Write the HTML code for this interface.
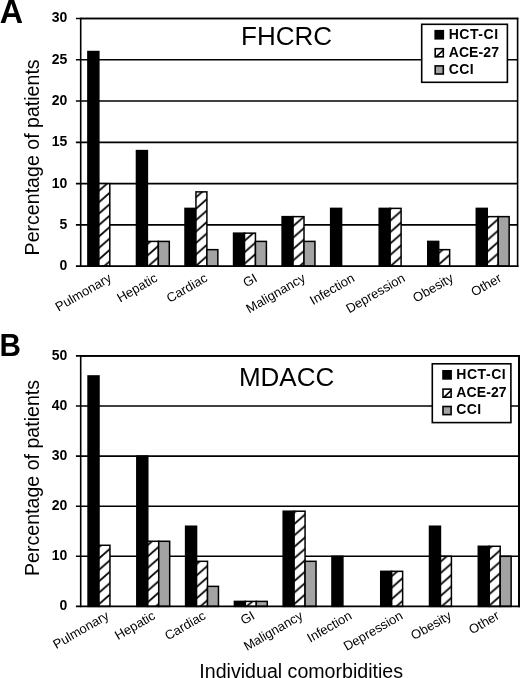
<!DOCTYPE html>
<html><head><meta charset="utf-8"><style>
html,body{margin:0;padding:0;background:#fff;}
body{width:520px;height:678px;overflow:hidden;}
svg{display:block;font-family:"Liberation Sans", sans-serif;filter:grayscale(1);}
</style></head><body>
<svg width="520" height="678" viewBox="0 0 520 678">
<rect width="520" height="678" fill="#fff"/>
<defs>
<pattern id="hatchA0" patternUnits="userSpaceOnUse" x="0" y="3.53" width="12.989" height="11.430"><rect width="12.989" height="11.430" fill="#fff"/><path d="M-25.977,22.860 L12.989,-11.430" stroke="#000" stroke-width="1.8"/><path d="M-12.989,22.860 L25.977,-11.430" stroke="#000" stroke-width="1.8"/><path d="M0.000,22.860 L38.966,-11.430" stroke="#000" stroke-width="1.8"/></pattern>
<pattern id="hatchA1" patternUnits="userSpaceOnUse" x="0" y="8.08" width="12.989" height="11.430"><rect width="12.989" height="11.430" fill="#fff"/><path d="M-25.977,22.860 L12.989,-11.430" stroke="#000" stroke-width="1.8"/><path d="M-12.989,22.860 L25.977,-11.430" stroke="#000" stroke-width="1.8"/><path d="M0.000,22.860 L38.966,-11.430" stroke="#000" stroke-width="1.8"/></pattern>
<pattern id="hatchA2" patternUnits="userSpaceOnUse" x="0" y="3.98" width="12.989" height="11.430"><rect width="12.989" height="11.430" fill="#fff"/><path d="M-25.977,22.860 L12.989,-11.430" stroke="#000" stroke-width="1.8"/><path d="M-12.989,22.860 L25.977,-11.430" stroke="#000" stroke-width="1.8"/><path d="M0.000,22.860 L38.966,-11.430" stroke="#000" stroke-width="1.8"/></pattern>
<pattern id="hatchA3" patternUnits="userSpaceOnUse" x="0" y="10.22" width="12.989" height="11.430"><rect width="12.989" height="11.430" fill="#fff"/><path d="M-25.977,22.860 L12.989,-11.430" stroke="#000" stroke-width="1.8"/><path d="M-12.989,22.860 L25.977,-11.430" stroke="#000" stroke-width="1.8"/><path d="M0.000,22.860 L38.966,-11.430" stroke="#000" stroke-width="1.8"/></pattern>
<pattern id="hatchA4" patternUnits="userSpaceOnUse" x="0" y="4.09" width="12.989" height="11.430"><rect width="12.989" height="11.430" fill="#fff"/><path d="M-25.977,22.860 L12.989,-11.430" stroke="#000" stroke-width="1.8"/><path d="M-12.989,22.860 L25.977,-11.430" stroke="#000" stroke-width="1.8"/><path d="M0.000,22.860 L38.966,-11.430" stroke="#000" stroke-width="1.8"/></pattern>
<pattern id="hatchA5" patternUnits="userSpaceOnUse" x="0" y="5.09" width="12.989" height="11.430"><rect width="12.989" height="11.430" fill="#fff"/><path d="M-25.977,22.860 L12.989,-11.430" stroke="#000" stroke-width="1.8"/><path d="M-12.989,22.860 L25.977,-11.430" stroke="#000" stroke-width="1.8"/><path d="M0.000,22.860 L38.966,-11.430" stroke="#000" stroke-width="1.8"/></pattern>
<pattern id="hatchA6" patternUnits="userSpaceOnUse" x="0" y="4.02" width="12.989" height="11.430"><rect width="12.989" height="11.430" fill="#fff"/><path d="M-25.977,22.860 L12.989,-11.430" stroke="#000" stroke-width="1.8"/><path d="M-12.989,22.860 L25.977,-11.430" stroke="#000" stroke-width="1.8"/><path d="M0.000,22.860 L38.966,-11.430" stroke="#000" stroke-width="1.8"/></pattern>
<pattern id="hatchA7" patternUnits="userSpaceOnUse" x="0" y="10.53" width="12.989" height="11.430"><rect width="12.989" height="11.430" fill="#fff"/><path d="M-25.977,22.860 L12.989,-11.430" stroke="#000" stroke-width="1.8"/><path d="M-12.989,22.860 L25.977,-11.430" stroke="#000" stroke-width="1.8"/><path d="M0.000,22.860 L38.966,-11.430" stroke="#000" stroke-width="1.8"/></pattern>
<pattern id="hatchA8" patternUnits="userSpaceOnUse" x="0" y="6.01" width="12.989" height="11.430"><rect width="12.989" height="11.430" fill="#fff"/><path d="M-25.977,22.860 L12.989,-11.430" stroke="#000" stroke-width="1.8"/><path d="M-12.989,22.860 L25.977,-11.430" stroke="#000" stroke-width="1.8"/><path d="M0.000,22.860 L38.966,-11.430" stroke="#000" stroke-width="1.8"/></pattern>
<pattern id="hatchB0" patternUnits="userSpaceOnUse" x="0" y="5.46" width="12.989" height="11.430"><rect width="12.989" height="11.430" fill="#fff"/><path d="M-25.977,22.860 L12.989,-11.430" stroke="#000" stroke-width="1.8"/><path d="M-12.989,22.860 L25.977,-11.430" stroke="#000" stroke-width="1.8"/><path d="M0.000,22.860 L38.966,-11.430" stroke="#000" stroke-width="1.8"/></pattern>
<pattern id="hatchB1" patternUnits="userSpaceOnUse" x="0" y="0.69" width="12.989" height="11.430"><rect width="12.989" height="11.430" fill="#fff"/><path d="M-25.977,22.860 L12.989,-11.430" stroke="#000" stroke-width="1.8"/><path d="M-12.989,22.860 L25.977,-11.430" stroke="#000" stroke-width="1.8"/><path d="M0.000,22.860 L38.966,-11.430" stroke="#000" stroke-width="1.8"/></pattern>
<pattern id="hatchB2" patternUnits="userSpaceOnUse" x="0" y="5.52" width="12.989" height="11.430"><rect width="12.989" height="11.430" fill="#fff"/><path d="M-25.977,22.860 L12.989,-11.430" stroke="#000" stroke-width="1.8"/><path d="M-12.989,22.860 L25.977,-11.430" stroke="#000" stroke-width="1.8"/><path d="M0.000,22.860 L38.966,-11.430" stroke="#000" stroke-width="1.8"/></pattern>
<pattern id="hatchB3" patternUnits="userSpaceOnUse" x="0" y="0.57" width="12.989" height="11.430"><rect width="12.989" height="11.430" fill="#fff"/><path d="M-25.977,22.860 L12.989,-11.430" stroke="#000" stroke-width="1.8"/><path d="M-12.989,22.860 L25.977,-11.430" stroke="#000" stroke-width="1.8"/><path d="M0.000,22.860 L38.966,-11.430" stroke="#000" stroke-width="1.8"/></pattern>
<pattern id="hatchB4" patternUnits="userSpaceOnUse" x="0" y="5.70" width="12.989" height="11.430"><rect width="12.989" height="11.430" fill="#fff"/><path d="M-25.977,22.860 L12.989,-11.430" stroke="#000" stroke-width="1.8"/><path d="M-12.989,22.860 L25.977,-11.430" stroke="#000" stroke-width="1.8"/><path d="M0.000,22.860 L38.966,-11.430" stroke="#000" stroke-width="1.8"/></pattern>
<pattern id="hatchB5" patternUnits="userSpaceOnUse" x="0" y="6.23" width="12.989" height="11.430"><rect width="12.989" height="11.430" fill="#fff"/><path d="M-25.977,22.860 L12.989,-11.430" stroke="#000" stroke-width="1.8"/><path d="M-12.989,22.860 L25.977,-11.430" stroke="#000" stroke-width="1.8"/><path d="M0.000,22.860 L38.966,-11.430" stroke="#000" stroke-width="1.8"/></pattern>
<pattern id="hatchB6" patternUnits="userSpaceOnUse" x="0" y="6.54" width="12.989" height="11.430"><rect width="12.989" height="11.430" fill="#fff"/><path d="M-25.977,22.860 L12.989,-11.430" stroke="#000" stroke-width="1.8"/><path d="M-12.989,22.860 L25.977,-11.430" stroke="#000" stroke-width="1.8"/><path d="M0.000,22.860 L38.966,-11.430" stroke="#000" stroke-width="1.8"/></pattern>
<pattern id="hatchB7" patternUnits="userSpaceOnUse" x="0" y="0.67" width="12.989" height="11.430"><rect width="12.989" height="11.430" fill="#fff"/><path d="M-25.977,22.860 L12.989,-11.430" stroke="#000" stroke-width="1.8"/><path d="M-12.989,22.860 L25.977,-11.430" stroke="#000" stroke-width="1.8"/><path d="M0.000,22.860 L38.966,-11.430" stroke="#000" stroke-width="1.8"/></pattern>
<pattern id="hatchB8" patternUnits="userSpaceOnUse" x="0" y="7.48" width="12.989" height="11.430"><rect width="12.989" height="11.430" fill="#fff"/><path d="M-25.977,22.860 L12.989,-11.430" stroke="#000" stroke-width="1.8"/><path d="M-12.989,22.860 L25.977,-11.430" stroke="#000" stroke-width="1.8"/><path d="M0.000,22.860 L38.966,-11.430" stroke="#000" stroke-width="1.8"/></pattern>
</defs>
<text x="-0.3" y="22.7" font-size="32.3" font-weight="bold">A</text>
<text transform="translate(67.2 270.12) scale(1 1.06)" font-size="14" font-weight="bold" text-anchor="end">0</text>
<line x1="75.90" y1="224.89" x2="517.60" y2="224.89" stroke="#000" stroke-width="1.6"/>
<text transform="translate(67.2 228.84) scale(1 1.06)" font-size="14" font-weight="bold" text-anchor="end">5</text>
<line x1="75.90" y1="183.61" x2="517.60" y2="183.61" stroke="#000" stroke-width="1.6"/>
<text transform="translate(67.2 187.56) scale(1 1.06)" font-size="14" font-weight="bold" text-anchor="end">10</text>
<line x1="75.90" y1="142.33" x2="517.60" y2="142.33" stroke="#000" stroke-width="1.6"/>
<text transform="translate(67.2 146.28) scale(1 1.06)" font-size="14" font-weight="bold" text-anchor="end">15</text>
<line x1="75.90" y1="101.06" x2="517.60" y2="101.06" stroke="#000" stroke-width="1.6"/>
<text transform="translate(67.2 105.01) scale(1 1.06)" font-size="14" font-weight="bold" text-anchor="end">20</text>
<line x1="75.90" y1="59.78" x2="517.60" y2="59.78" stroke="#000" stroke-width="1.6"/>
<text transform="translate(67.2 63.73) scale(1 1.06)" font-size="14" font-weight="bold" text-anchor="end">25</text>
<line x1="75.90" y1="18.50" x2="517.60" y2="18.50" stroke="#000" stroke-width="1.6"/>
<text transform="translate(67.2 22.45) scale(1 1.06)" font-size="14" font-weight="bold" text-anchor="end">30</text>
<text x="286.55" y="45.4" font-size="26" text-anchor="middle">FHCRC</text>
<rect x="87.90" y="51.52" width="10.95" height="214.65" fill="#000" stroke="#000" stroke-width="1.5"/>
<rect x="98.85" y="183.61" width="10.95" height="82.56" fill="url(#hatchA0)" stroke="#000" stroke-width="1.5"/>
<rect x="136.45" y="150.59" width="10.95" height="115.58" fill="#000" stroke="#000" stroke-width="1.5"/>
<rect x="147.40" y="241.40" width="10.95" height="24.77" fill="url(#hatchA1)" stroke="#000" stroke-width="1.5"/>
<rect x="158.35" y="241.40" width="10.95" height="24.77" fill="#a3a3a3" stroke="#000" stroke-width="1.5"/>
<rect x="185.00" y="208.38" width="10.95" height="57.79" fill="#000" stroke="#000" stroke-width="1.5"/>
<rect x="195.95" y="191.87" width="10.95" height="74.30" fill="url(#hatchA2)" stroke="#000" stroke-width="1.5"/>
<rect x="206.90" y="249.66" width="10.95" height="16.51" fill="#a3a3a3" stroke="#000" stroke-width="1.5"/>
<rect x="233.55" y="233.15" width="10.95" height="33.02" fill="#000" stroke="#000" stroke-width="1.5"/>
<rect x="244.50" y="233.15" width="10.95" height="33.02" fill="url(#hatchA3)" stroke="#000" stroke-width="1.5"/>
<rect x="255.45" y="241.40" width="10.95" height="24.77" fill="#a3a3a3" stroke="#000" stroke-width="1.5"/>
<rect x="282.10" y="216.64" width="10.95" height="49.53" fill="#000" stroke="#000" stroke-width="1.5"/>
<rect x="293.05" y="216.64" width="10.95" height="49.53" fill="url(#hatchA4)" stroke="#000" stroke-width="1.5"/>
<rect x="304.00" y="241.40" width="10.95" height="24.77" fill="#a3a3a3" stroke="#000" stroke-width="1.5"/>
<rect x="330.65" y="208.38" width="10.95" height="57.79" fill="#000" stroke="#000" stroke-width="1.5"/>
<rect x="379.20" y="208.38" width="10.95" height="57.79" fill="#000" stroke="#000" stroke-width="1.5"/>
<rect x="390.15" y="208.38" width="10.95" height="57.79" fill="url(#hatchA6)" stroke="#000" stroke-width="1.5"/>
<rect x="427.75" y="241.40" width="10.95" height="24.77" fill="#000" stroke="#000" stroke-width="1.5"/>
<rect x="438.70" y="249.66" width="10.95" height="16.51" fill="url(#hatchA7)" stroke="#000" stroke-width="1.5"/>
<rect x="476.30" y="208.38" width="10.95" height="57.79" fill="#000" stroke="#000" stroke-width="1.5"/>
<rect x="487.25" y="216.64" width="10.95" height="49.53" fill="url(#hatchA8)" stroke="#000" stroke-width="1.5"/>
<rect x="498.20" y="216.64" width="10.95" height="49.53" fill="#a3a3a3" stroke="#000" stroke-width="1.5"/>
<line x1="80.70" y1="17.70" x2="80.70" y2="266.97" stroke="#000" stroke-width="1.6"/>
<line x1="517.60" y1="17.70" x2="517.60" y2="266.97" stroke="#000" stroke-width="1.6"/>
<line x1="75.90" y1="266.17" x2="518.40" y2="266.17" stroke="#000" stroke-width="1.6"/>
<line x1="80.70" y1="18.50" x2="518.40" y2="18.50" stroke="#000" stroke-width="1.6"/>
<rect x="421.70" y="24.30" width="85.70" height="58.00" fill="#fff" stroke="#000" stroke-width="1.6"/>
<rect x="435.20" y="30.70" width="8.1" height="8.1" fill="#000" stroke="#000" stroke-width="1.6"/>
<text x="448.70" y="38.60" font-size="14" font-weight="bold" letter-spacing="0.55">HCT-CI</text>
<rect x="435.20" y="48.70" width="8.1" height="8.1" fill="#fff" stroke="#000" stroke-width="1.6"/>
<line x1="435.80" y1="57.20" x2="443.60" y2="49.80" stroke="#000" stroke-width="1.6"/>
<text x="448.70" y="56.60" font-size="14" font-weight="bold" letter-spacing="0.1">ACE-27</text>
<rect x="435.20" y="65.90" width="8.1" height="8.1" fill="#a3a3a3" stroke="#000" stroke-width="1.6"/>
<text x="448.70" y="73.80" font-size="14" font-weight="bold" letter-spacing="0.4">CCI</text>
<text x="112.40" y="280.60" font-size="13" text-anchor="end" transform="rotate(-30 112.40 280.60)">Pulmonary</text>
<text x="158.40" y="280.60" font-size="13" text-anchor="end" transform="rotate(-30 158.40 280.60)">Hepatic</text>
<text x="208.50" y="280.60" font-size="13" text-anchor="end" transform="rotate(-30 208.50 280.60)">Cardiac</text>
<text x="258.20" y="280.60" font-size="13" text-anchor="end" transform="rotate(-30 258.20 280.60)">GI</text>
<text x="306.30" y="280.60" font-size="13" text-anchor="end" transform="rotate(-30 306.30 280.60)">Malignancy</text>
<text x="355.60" y="280.60" font-size="13" text-anchor="end" transform="rotate(-30 355.60 280.60)">Infection</text>
<text x="406.10" y="280.60" font-size="13" text-anchor="end" transform="rotate(-30 406.10 280.60)">Depression</text>
<text x="454.30" y="280.60" font-size="13" text-anchor="end" transform="rotate(-30 454.30 280.60)">Obesity</text>
<text x="502.40" y="280.60" font-size="13" text-anchor="end" transform="rotate(-30 502.40 280.60)">Other</text>
<text x="39" y="157.40" font-size="19.6" text-anchor="middle" transform="rotate(-90 39 157.40)">Percentage of patients</text>
<text transform="translate(-0.4 356.4) scale(0.94 1)" font-size="31.6" font-weight="bold">B</text>
<text transform="translate(67.2 610.35) scale(1 1.06)" font-size="14" font-weight="bold" text-anchor="end">0</text>
<line x1="75.90" y1="556.30" x2="519.00" y2="556.30" stroke="#000" stroke-width="1.6"/>
<text transform="translate(67.2 560.25) scale(1 1.06)" font-size="14" font-weight="bold" text-anchor="end">10</text>
<line x1="75.90" y1="506.20" x2="519.00" y2="506.20" stroke="#000" stroke-width="1.6"/>
<text transform="translate(67.2 510.15) scale(1 1.06)" font-size="14" font-weight="bold" text-anchor="end">20</text>
<line x1="75.90" y1="456.10" x2="519.00" y2="456.10" stroke="#000" stroke-width="1.6"/>
<text transform="translate(67.2 460.05) scale(1 1.06)" font-size="14" font-weight="bold" text-anchor="end">30</text>
<line x1="75.90" y1="406.00" x2="519.00" y2="406.00" stroke="#000" stroke-width="1.6"/>
<text transform="translate(67.2 409.95) scale(1 1.06)" font-size="14" font-weight="bold" text-anchor="end">40</text>
<line x1="75.90" y1="355.90" x2="519.00" y2="355.90" stroke="#000" stroke-width="1.6"/>
<text transform="translate(67.2 359.85) scale(1 1.06)" font-size="14" font-weight="bold" text-anchor="end">50</text>
<text x="286.6" y="385.6" font-size="26" text-anchor="middle">MDACC</text>
<rect x="88.05" y="375.94" width="10.95" height="230.46" fill="#000" stroke="#000" stroke-width="1.5"/>
<rect x="99.00" y="545.28" width="10.95" height="61.12" fill="url(#hatchB0)" stroke="#000" stroke-width="1.5"/>
<rect x="136.83" y="456.10" width="10.95" height="150.30" fill="#000" stroke="#000" stroke-width="1.5"/>
<rect x="147.78" y="541.27" width="10.95" height="65.13" fill="url(#hatchB1)" stroke="#000" stroke-width="1.5"/>
<rect x="158.73" y="541.27" width="10.95" height="65.13" fill="#a3a3a3" stroke="#000" stroke-width="1.5"/>
<rect x="185.61" y="526.24" width="10.95" height="80.16" fill="#000" stroke="#000" stroke-width="1.5"/>
<rect x="196.56" y="561.31" width="10.95" height="45.09" fill="url(#hatchB2)" stroke="#000" stroke-width="1.5"/>
<rect x="207.51" y="586.36" width="10.95" height="20.04" fill="#a3a3a3" stroke="#000" stroke-width="1.5"/>
<rect x="234.39" y="601.39" width="10.95" height="5.01" fill="#000" stroke="#000" stroke-width="1.5"/>
<rect x="245.34" y="601.39" width="10.95" height="5.01" fill="url(#hatchB3)" stroke="#000" stroke-width="1.5"/>
<rect x="256.29" y="601.39" width="10.95" height="5.01" fill="#a3a3a3" stroke="#000" stroke-width="1.5"/>
<rect x="283.17" y="511.21" width="10.95" height="95.19" fill="#000" stroke="#000" stroke-width="1.5"/>
<rect x="294.12" y="511.21" width="10.95" height="95.19" fill="url(#hatchB4)" stroke="#000" stroke-width="1.5"/>
<rect x="305.07" y="561.31" width="10.95" height="45.09" fill="#a3a3a3" stroke="#000" stroke-width="1.5"/>
<rect x="331.95" y="556.30" width="10.95" height="50.10" fill="#000" stroke="#000" stroke-width="1.5"/>
<rect x="380.73" y="571.33" width="10.95" height="35.07" fill="#000" stroke="#000" stroke-width="1.5"/>
<rect x="391.68" y="571.33" width="10.95" height="35.07" fill="url(#hatchB6)" stroke="#000" stroke-width="1.5"/>
<rect x="429.51" y="526.24" width="10.95" height="80.16" fill="#000" stroke="#000" stroke-width="1.5"/>
<rect x="440.46" y="556.30" width="10.95" height="50.10" fill="url(#hatchB7)" stroke="#000" stroke-width="1.5"/>
<rect x="478.29" y="546.28" width="10.95" height="60.12" fill="#000" stroke="#000" stroke-width="1.5"/>
<rect x="489.24" y="546.28" width="10.95" height="60.12" fill="url(#hatchB8)" stroke="#000" stroke-width="1.5"/>
<rect x="500.19" y="556.30" width="10.95" height="50.10" fill="#a3a3a3" stroke="#000" stroke-width="1.5"/>
<line x1="80.70" y1="355.10" x2="80.70" y2="607.20" stroke="#000" stroke-width="1.6"/>
<line x1="519.00" y1="355.10" x2="519.00" y2="607.20" stroke="#000" stroke-width="2.0"/>
<line x1="75.90" y1="606.40" x2="519.80" y2="606.40" stroke="#000" stroke-width="1.6"/>
<line x1="80.70" y1="355.90" x2="519.80" y2="355.90" stroke="#000" stroke-width="1.6"/>
<rect x="432.30" y="363.80" width="78.60" height="58.80" fill="#fff" stroke="#000" stroke-width="1.6"/>
<rect x="443.00" y="370.80" width="8.1" height="8.1" fill="#000" stroke="#000" stroke-width="1.6"/>
<text x="456.30" y="378.70" font-size="14" font-weight="bold" letter-spacing="0.55">HCT-CI</text>
<rect x="443.00" y="389.10" width="8.1" height="8.1" fill="#fff" stroke="#000" stroke-width="1.6"/>
<line x1="443.60" y1="397.60" x2="451.40" y2="390.20" stroke="#000" stroke-width="1.6"/>
<text x="456.30" y="397.00" font-size="14" font-weight="bold" letter-spacing="0.1">ACE-27</text>
<rect x="443.00" y="406.50" width="8.1" height="8.1" fill="#a3a3a3" stroke="#000" stroke-width="1.6"/>
<text x="456.30" y="414.40" font-size="14" font-weight="bold" letter-spacing="0.4">CCI</text>
<text x="110.00" y="618.20" font-size="13" text-anchor="end" transform="rotate(-30 110.00 618.20)">Pulmonary</text>
<text x="156.20" y="618.20" font-size="13" text-anchor="end" transform="rotate(-30 156.20 618.20)">Hepatic</text>
<text x="206.70" y="618.20" font-size="13" text-anchor="end" transform="rotate(-30 206.70 618.20)">Cardiac</text>
<text x="255.60" y="618.20" font-size="13" text-anchor="end" transform="rotate(-30 255.60 618.20)">GI</text>
<text x="303.90" y="618.20" font-size="13" text-anchor="end" transform="rotate(-30 303.90 618.20)">Malignancy</text>
<text x="352.90" y="618.20" font-size="13" text-anchor="end" transform="rotate(-30 352.90 618.20)">Infection</text>
<text x="403.70" y="618.20" font-size="13" text-anchor="end" transform="rotate(-30 403.70 618.20)">Depression</text>
<text x="452.30" y="618.20" font-size="13" text-anchor="end" transform="rotate(-30 452.30 618.20)">Obesity</text>
<text x="500.20" y="618.20" font-size="13" text-anchor="end" transform="rotate(-30 500.20 618.20)">Other</text>
<text x="39" y="478.00" font-size="19.6" text-anchor="middle" transform="rotate(-90 39 478.00)">Percentage of patients</text>
<text x="301.2" y="677.8" font-size="19.6" text-anchor="middle">Individual comorbidities</text>
</svg>
</body></html>
